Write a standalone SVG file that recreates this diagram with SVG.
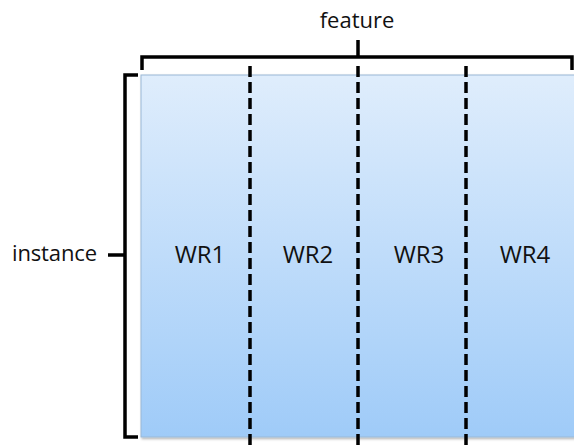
<svg xmlns="http://www.w3.org/2000/svg" width="574" height="447" viewBox="0 0 574 447">
<defs>
<linearGradient id="bg" x1="0" y1="0" x2="0" y2="1">
<stop offset="0" stop-color="#dfedfc"/>
<stop offset="1" stop-color="#9fcbf8"/>
</linearGradient>
<filter id="sh" x="-5%" y="-5%" width="110%" height="110%">
<feDropShadow dx="1" dy="1.5" stdDeviation="1.2" flood-color="#000" flood-opacity="0.3"/>
</filter>
</defs>
<style>
.br{fill:none;stroke:#000;stroke-width:3.5;stroke-linejoin:miter}
.dash{stroke:#000;stroke-width:3.5;stroke-dasharray:11 5}
.lbl{font-family:"Open Sans","Liberation Sans",sans-serif;fill:#111}
</style>
<rect width="574" height="447" fill="#fff"/>
<g id="matrix">
<rect x="141" y="75" width="440" height="362" fill="url(#bg)" stroke="#9ab8d6" stroke-width="1" filter="url(#sh)"/>
</g>
<g id="connectors">
<line class="dash" x1="250" y1="66" x2="250" y2="447"/>
<line class="dash" x1="358" y1="66" x2="358" y2="447"/>
<line class="dash" x1="466" y1="66" x2="466" y2="447"/>
</g>
<g id="feature-bracket">
<path class="br" d="M142,70 V57 H572 V70 M358,57 V40"/>
<text class="lbl" x="357" y="28" font-size="22" text-anchor="middle">feature</text>
</g>
<g id="instance-bracket">
<path class="br" d="M138,75 H125 V437 H138 M125,255 H108"/>
<text class="lbl" x="12" y="261" font-size="22" textLength="85">instance</text>
</g>
<g id="wr1"><text class="lbl" x="200" y="263" font-size="24" text-anchor="middle">WR1</text></g>
<g id="wr2"><text class="lbl" x="308" y="263" font-size="24" text-anchor="middle">WR2</text></g>
<g id="wr3"><text class="lbl" x="419" y="263" font-size="24" text-anchor="middle">WR3</text></g>
<g id="wr4"><text class="lbl" x="525" y="263" font-size="24" text-anchor="middle">WR4</text></g>
</svg>
